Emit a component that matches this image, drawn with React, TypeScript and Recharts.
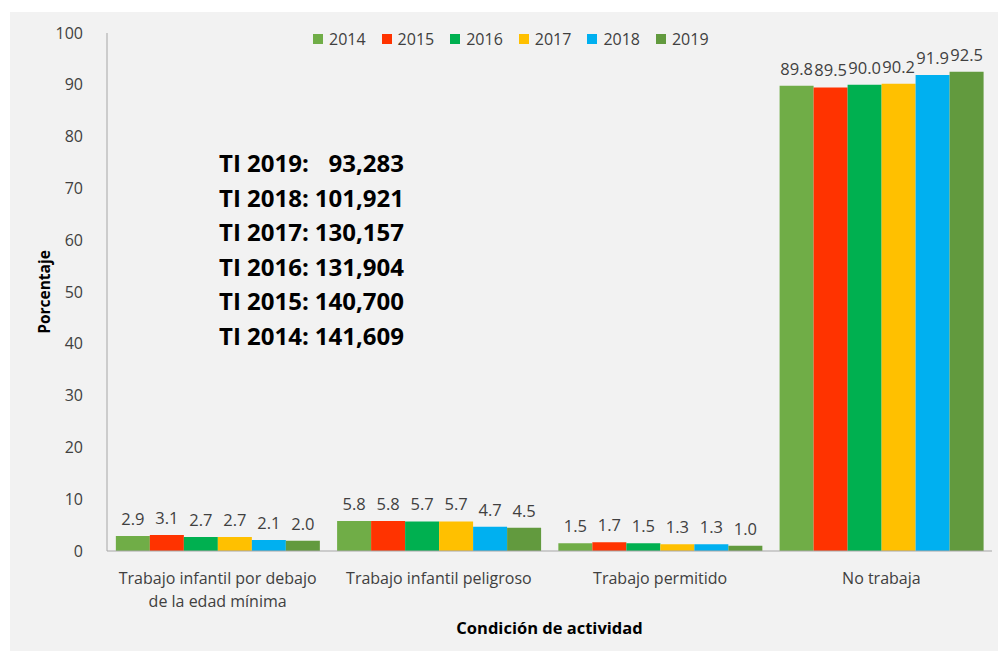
import React from 'react'
import { BarChart, Bar, XAxis, YAxis, LabelList } from 'recharts'

const categories = [
  'Trabajo infantil por debajo\nde la edad mínima',
  'Trabajo infantil peligroso',
  'Trabajo permitido',
  'No trabaja',
]
const years = ['2014', '2015', '2016', '2017', '2018', '2019']
const v2014 = [2.9, 5.8, 1.5, 89.8]
const v2015 = [3.1, 5.8, 1.7, 89.5]
const v2016 = [2.7, 5.7, 1.5, 90.0]
const v2017 = [2.7, 5.7, 1.3, 90.2]
const v2018 = [2.1, 4.7, 1.3, 91.9]
const v2019 = [2.0, 4.5, 1.0, 92.5]
const yTicks = [0, 10, 20, 30, 40, 50, 60, 70, 80, 90, 100]
const tiYears = ['2019', '2018', '2017', '2016', '2015', '2014']
const tiValues = ['93,283', '101,921', '130,157', '131,904', '140,700', '141,609']

const COLORS = ['#70AD47', '#FF3300', '#00B050', '#FFC000', '#00B0F0', '#629A3E']
const FONT = '"Open Sans", "Noto Sans", sans-serif'
const TEXT = '#404040'

const seriesValues = [v2014, v2015, v2016, v2017, v2018, v2019]
const data = categories.map((c, i) => {
  const row: any = { name: c }
  years.forEach((y, k) => {
    row[y] = seriesValues[k][i]
  })
  return row
})

const CategoryTick = ({ x, y, payload }: any) => {
  const lines = String(payload.value).split('\n')
  return (
    <text x={x} y={y + 25} textAnchor="middle" fill={TEXT} fontSize={16} fontFamily={FONT}>
      {lines.map((l, i) => (
        <tspan key={i} x={x} dy={i === 0 ? 0 : 23}>
          {l}
        </tspan>
      ))}
    </text>
  )
}

const fmt = (v: any) => Number(v).toFixed(1)

export default function App() {
  return (
    <div
      style={{
        position: 'fixed',
        left: 0,
        top: 0,
        width: 998,
        height: 651,
        background: '#ffffff',
      }}
    >
      <div
        style={{
          position: 'absolute',
          left: 10,
          top: 12,
          width: 988,
          height: 639,
          background: '#F2F2F2',
        }}
      >
        <BarChart
          width={988}
          height={639}
          data={data}
          margin={{ top: 21, right: 6, bottom: 70, left: 0 }}
          barCategoryGap="4%"
          barGap={0}
        >
          <XAxis
            dataKey="name"
            height={30}
            tick={<CategoryTick />}
            tickLine={false}
            axisLine={{ stroke: '#A6A6A6' }}
            interval={0}
            label={{
              content: ({ viewBox }: any) => (
                <text
                  x={viewBox.x + viewBox.width / 2}
                  y={viewBox.y + 83}
                  textAnchor="middle"
                  fontFamily={FONT}
                  fontSize={16.5}
                  fontWeight="bold"
                  fill="#000"
                >
                  Condición de actividad
                </text>
              ),
            }}
          />
          <YAxis
            width={97}
            domain={[0, 100]}
            ticks={yTicks}
            tickLine={false}
            axisLine={{ stroke: '#A6A6A6' }}
            tick={{ fontSize: 16, fill: TEXT, fontFamily: FONT }}
            tickMargin={18}
            label={{
              content: ({ viewBox }: any) => (
                <text
                  x={34}
                  y={viewBox.y + viewBox.height / 2}
                  transform={`rotate(-90 34 ${viewBox.y + viewBox.height / 2})`}
                  textAnchor="middle"
                  dominantBaseline="central"
                  fontFamily={FONT}
                  fontSize={15.5}
                  fontWeight="bold"
                  fill="#000"
                >
                  Porcentaje
                </text>
              ),
            }}
          />
          {years.map((y, i) => (
            <Bar key={y} dataKey={y} fill={COLORS[i]} isAnimationActive={false}>
              <LabelList
                dataKey={y}
                position="top"
                offset={11}
                formatter={fmt}
                style={{ fontSize: 16.5, fill: TEXT, fontFamily: FONT }}
              />
            </Bar>
          ))}
        </BarChart>
        <div
          style={{
            position: 'absolute',
            left: 303,
            top: 16,
            display: 'flex',
            fontFamily: FONT,
            fontSize: 16,
            color: TEXT,
          }}
        >
          {years.map((y, i) => (
            <div key={y} style={{ display: 'flex', alignItems: 'center', marginRight: 16 }}>
              <div style={{ width: 10, height: 10, background: COLORS[i], marginRight: 6 }} />
              <span>{y}</span>
            </div>
          ))}
        </div>
        <div
          style={{
            position: 'absolute',
            left: 209,
            top: 134,
            display: 'grid',
            gridTemplateColumns: 'auto auto',
            columnGap: 6,
            fontFamily: FONT,
            fontSize: 24,
            fontWeight: 'bold',
            lineHeight: '34.6px',
            color: '#000',
          }}
        >
          {tiYears.map((y, i) => (
            <React.Fragment key={y}>
              <span>TI {y}:</span>
              <span style={{ textAlign: 'right' }}>{tiValues[i]}</span>
            </React.Fragment>
          ))}
        </div>
      </div>
    </div>
  )
}
